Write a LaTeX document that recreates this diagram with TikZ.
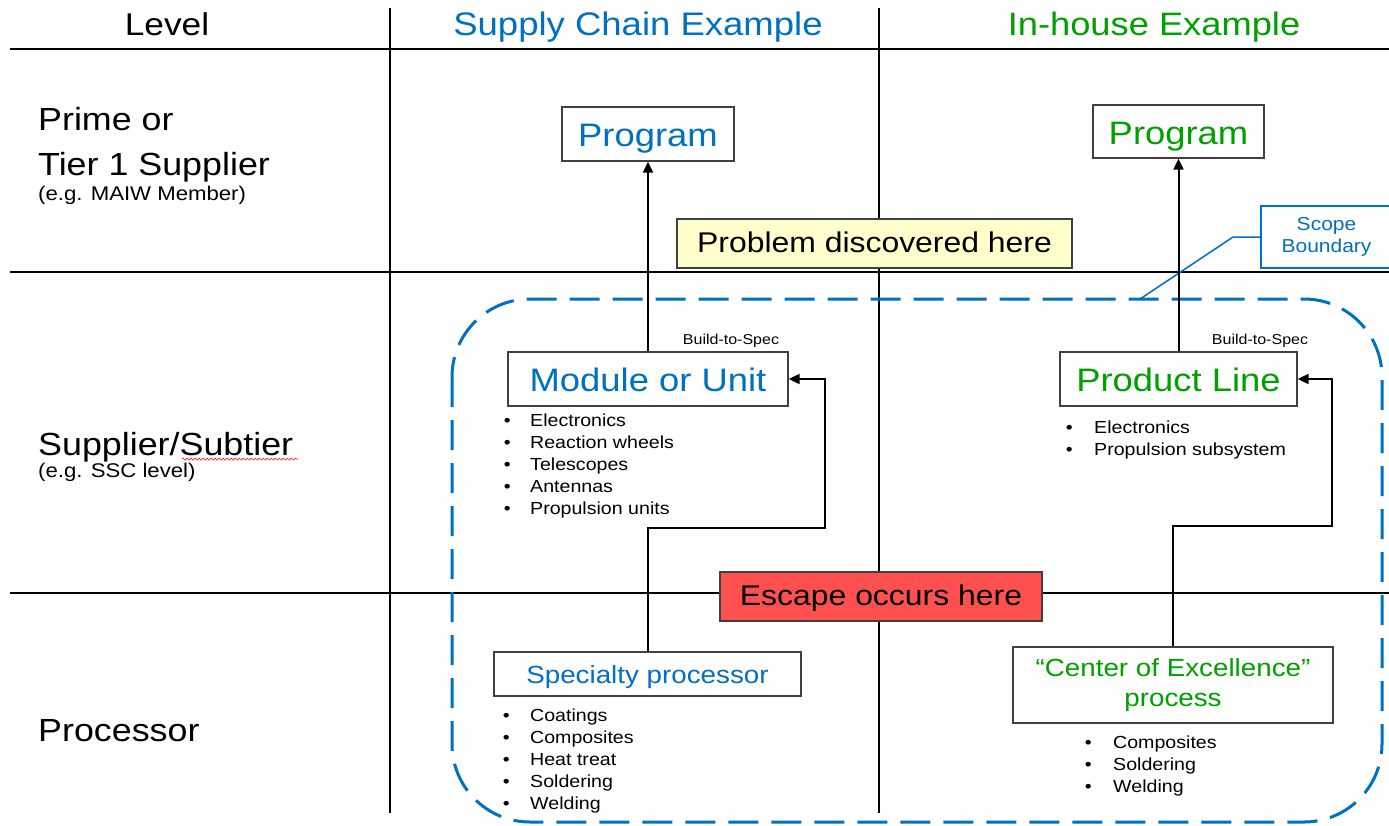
\documentclass[tikz,border=0pt]{standalone}
\usepackage{fontspec}
\setmainfont{Liberation Sans}[FakeStretch=1.12]
\usetikzlibrary{arrows.meta,decorations.pathmorphing}
\definecolor{scblue}{RGB}{0,112,192}
\definecolor{ihgreen}{RGB}{0,160,0}
\definecolor{escred}{RGB}{255,80,80}
\definecolor{probyellow}{RGB}{255,255,204}
\definecolor{boxgray}{RGB}{64,64,64}
\newcommand{\fsz}[2]{\fontsize{#1}{#2}\selectfont}
\begin{document}
\begin{tikzpicture}[x=1pt,y=-1pt,
  grid/.style={line width=2pt, black},
  box/.style={draw=boxgray, line width=1.3pt, fill=white, inner sep=0pt},
  hdr/.style={anchor=base, inner sep=0pt, font=\fsz{31.5}{36}},
  lvl/.style={anchor=base west, inner sep=0pt, font=\fsz{32}{36}},
  note/.style={anchor=base west, inner sep=0pt, font=\fsz{19.8}{24}},
  bul/.style={anchor=base west, inner sep=0pt, font=\fsz{17.5}{22}},
  spectext/.style={anchor=base, inner sep=0pt, font=\fsz{14.3}{17}},
  arr/.style={line width=2pt, -{Triangle[length=11pt,width=10pt]}},
  boundary/.style={scblue, line width=3pt, dash pattern=on 30pt off 13pt, rounded corners=78pt},
]
\fill[white] (0,0) rectangle (1389,825);
\useasboundingbox (0,0) rectangle (1389,825);

% table grid
\draw[grid] (10,49) -- (1389,49);
\draw[grid] (10,272) -- (1389,272);
\draw[grid] (10,593) -- (1389,593);
\draw[grid] (390,8) -- (390,813);
\draw[grid] (879,8) -- (879,813);

% scope boundary
\draw[boundary] (452,299) rectangle (1382,822);

% column headers
\node[hdr] (hLevel) at (167,35) {Level};
\node[hdr, font=\fsz{32.6}{36}, text=scblue] (hSupply) at (638,35) {Supply Chain Example};
\node[hdr, font=\fsz{32.4}{36}, text=ihgreen] (hHouse) at (1154,35) {In-house Example};

% level labels
\node[lvl] (lPrime) at (38,130) {Prime or};
\node[lvl] (lTier) at (38,175) {Tier 1 Supplier};
\node[note] (lMaiw) at (38,200) {(e.g. MAIW Member)};
\node[lvl] (lSub) at (38,455) {Supplier/Subtier};
\node[note] (lSsc) at (38,477) {(e.g. SSC level)};
\node[lvl] (lProc) at (38,741) {Processor};
\draw[red!85, line width=0.7pt, decorate,
      decoration={snake, amplitude=1pt, segment length=4pt}] (182,459) -- (298,459);

% scope boundary callout
\node[draw=scblue, line width=1.5pt, fill=white, text=scblue, align=center,
      font=\fsz{18.75}{22}, minimum width=131pt, minimum height=62pt, inner sep=0pt]
      (scope) at (1326.5,237) {Scope\\Boundary};
\coordinate (scopeKnee) at (1233,237);
\coordinate (scopeTip) at (1140,299);
\draw[scblue, line width=1.5pt] (scope.west) -- (scopeKnee) -- (scopeTip);

% supply chain column
\node[box, minimum width=172pt, minimum height=54pt, text height=25pt, text depth=0pt,
      font=\fsz{32.5}{36}, text=scblue] (progS) at (648,134) {Program};
\node[box, minimum width=280pt, minimum height=54pt, text height=24pt, text depth=0pt,
      font=\fsz{32.5}{36}, text=scblue] (mod) at (648,379) {Module or Unit};
\node[box, minimum width=307pt, minimum height=44pt, text height=18pt, text depth=0pt,
      font=\fsz{24.8}{29}, text=scblue] (spec) at (647.5,674) {Specialty processor};
\node[spectext] (btsS) at (731,344) {Build-to-Spec};

\foreach \t [count=\i] in {Electronics,Reaction wheels,Telescopes,Antennas,Propulsion units}
  \node[bul] (mu\i) at (530,{404+22*\i}) {\llap{•\hspace{19.5pt}}\t};
\foreach \t [count=\i] in {Coatings,Composites,Heat treat,Soldering,Welding}
  \node[bul] (sp\i) at (530,{699+22*\i}) {\llap{•\hspace{20.5pt}}\t};

% in-house column
\node[box, minimum width=171pt, minimum height=53pt, text height=25pt, text depth=0pt,
      font=\fsz{32.5}{36}, text=ihgreen] (progI) at (1178.5,131.5) {Program};
\node[box, minimum width=237pt, minimum height=54pt, text height=24pt, text depth=0pt,
      font=\fsz{32.5}{36}, text=ihgreen] (prod) at (1178.5,379) {Product Line};
\node[box, minimum width=320pt, minimum height=76pt, align=center,
      font=\fsz{24.8}{29.5}, text=ihgreen] (coe) at (1173,685) {“Center of Excellence”\\process};
\node[spectext] (btsI) at (1260,344) {Build-to-Spec};

\foreach \t [count=\i] in {Electronics,Propulsion subsystem}
  \node[bul] (pl\i) at (1094,{411+22*\i}) {\llap{•\hspace{21.5pt}}\t};
\foreach \t [count=\i] in {Composites,Soldering,Welding}
  \node[bul] (ce\i) at (1113,{726+22*\i}) {\llap{•\hspace{21.5pt}}\t};

% flow arrows
\draw[arr] (mod.north) -- (progS.south);
\draw[arr] (prod.north) -- (progI.south);
\coordinate (sLoop) at (825,528);
\coordinate (iLoop) at (1332,526);
\draw[arr] (spec.north) |- (sLoop) |- (mod.east);
\draw[arr] (coe.north) |- (iLoop) |- (prod.east);

% discovery and escape markers
\node[box, fill=probyellow, minimum width=395pt, minimum height=49pt, text height=17pt,
      text depth=0pt, font=\fsz{28.5}{32}] (prob) at (874.5,243.5) {Problem discovered here};
\node[box, fill=escred, minimum width=322pt, minimum height=49pt, text height=17pt,
      text depth=0pt, font=\fsz{28.5}{32}] (esc) at (881,596.5) {Escape occurs here};
\end{tikzpicture}
\end{document}
